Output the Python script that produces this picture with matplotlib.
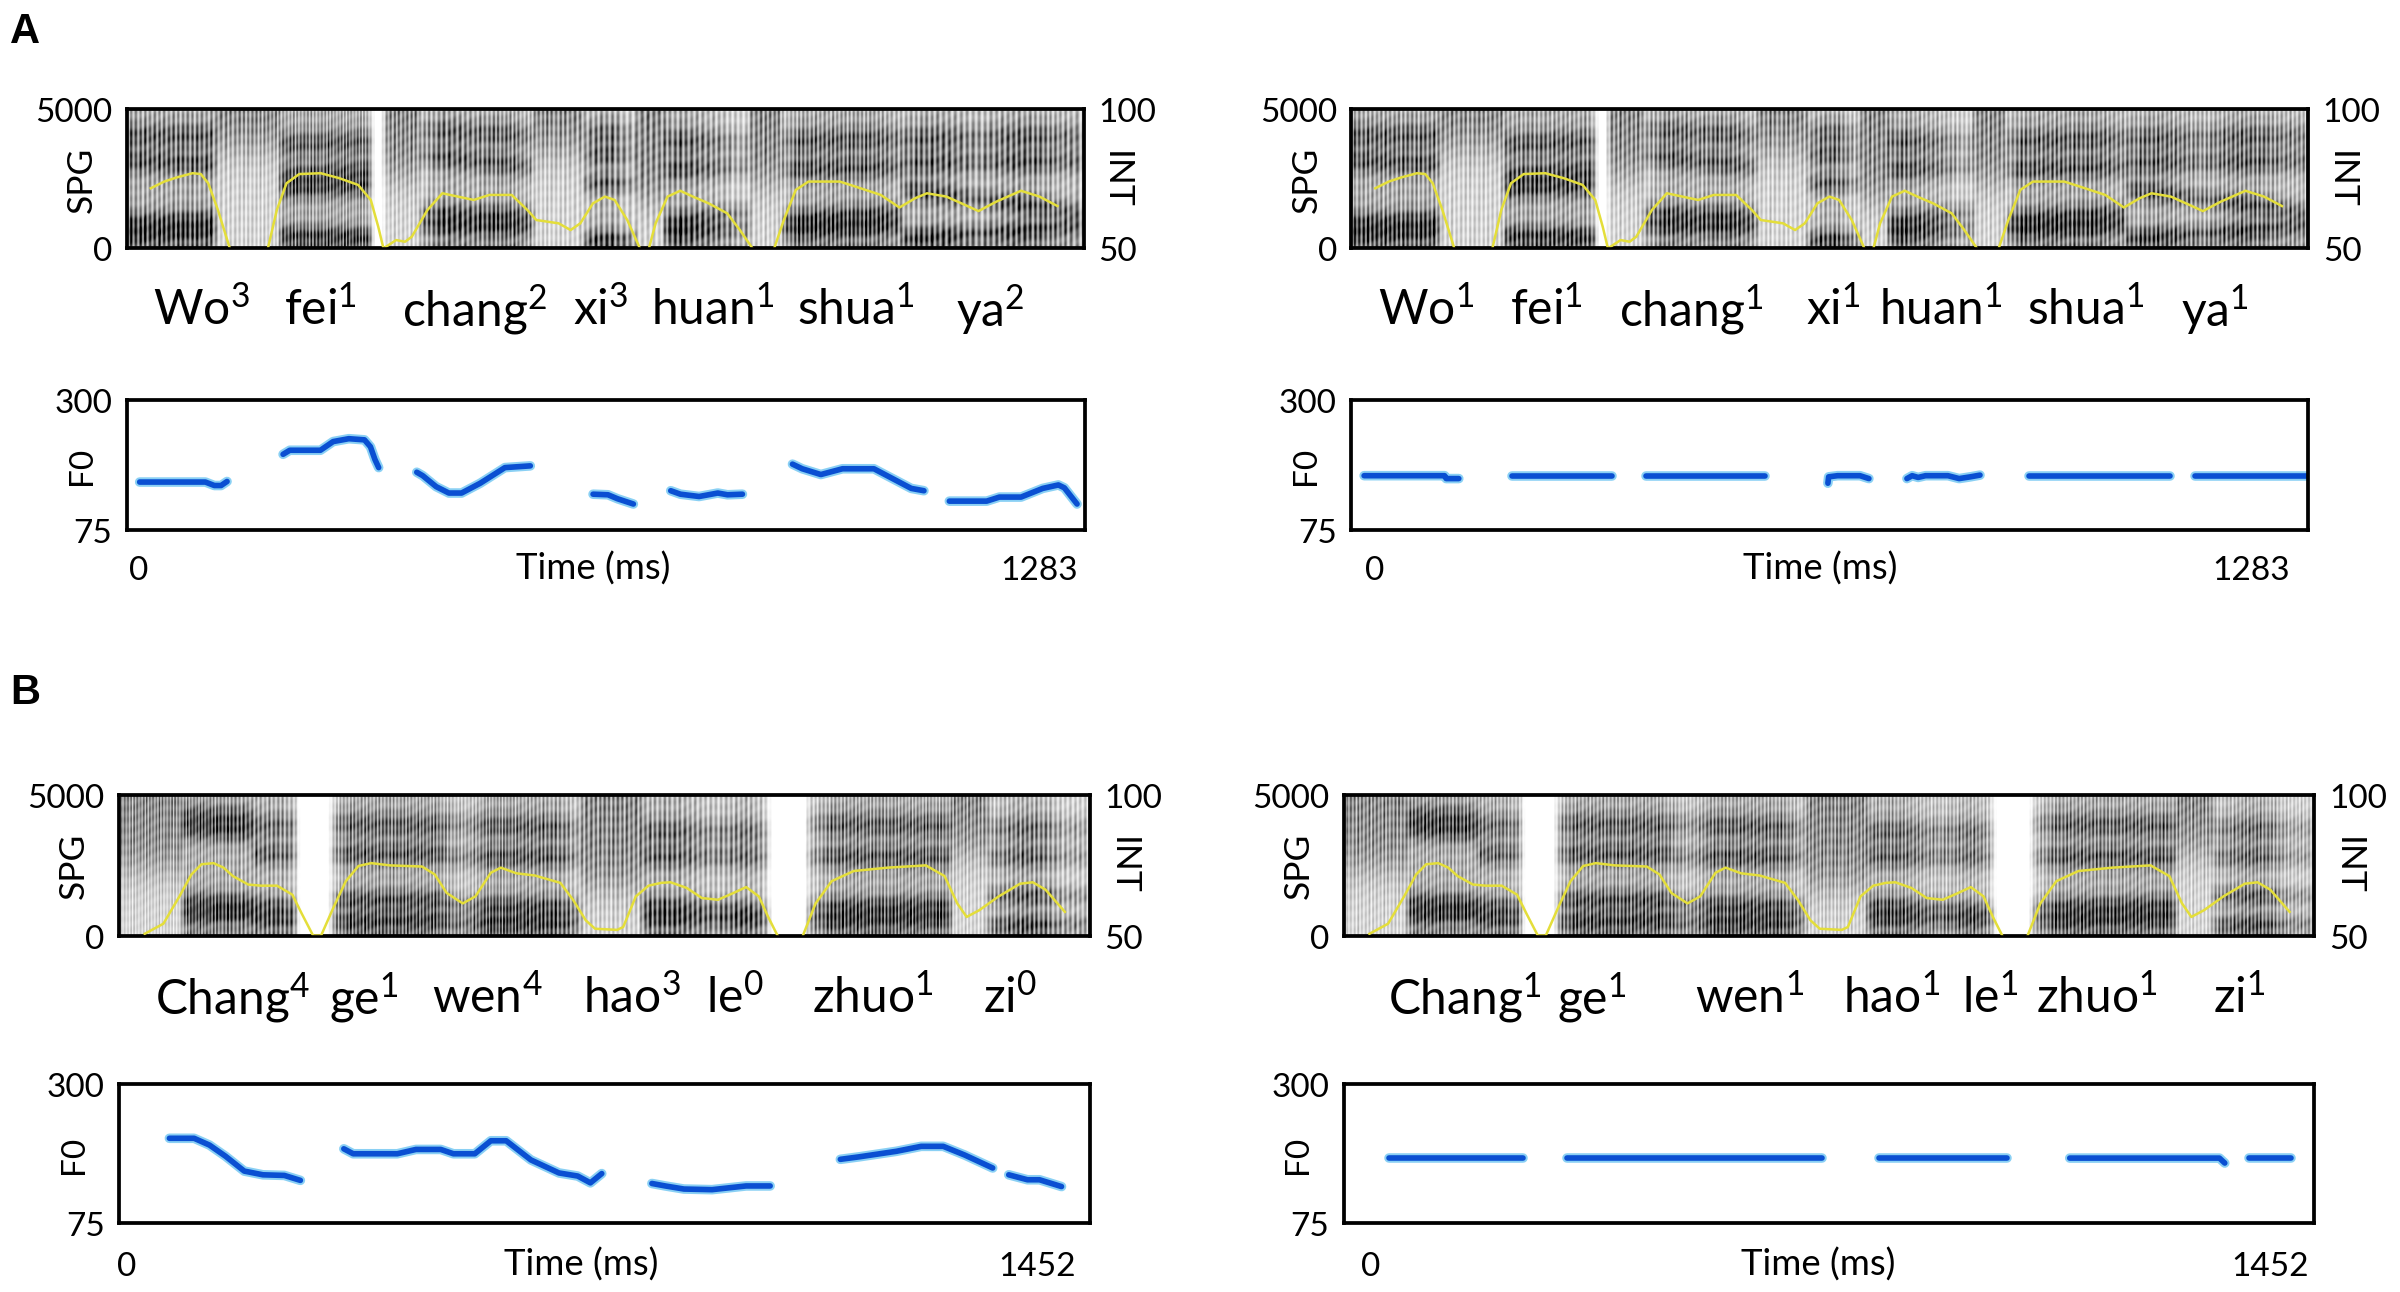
import numpy as np
import matplotlib.pyplot as plt
from matplotlib import transforms

plt.rcParams['font.family'] = ['Lato', 'DejaVu Sans']
plt.rcParams['mathtext.fontset'] = 'custom'
plt.rcParams['mathtext.rm'] = 'Lato'
plt.rcParams['mathtext.it'] = 'Lato:italic'
plt.rcParams['mathtext.bf'] = 'Lato:bold'

nan = np.nan

# ---------------- sentence A: "Wo fei chang xi huan shua ya" ----------------
dur_a = 1283
syl_a = ['Wo', 'fei', 'chang', 'xi', 'huan', 'shua', 'ya']
tone_a_nat = ['3', '1', '2', '3', '1', '1', '2']
tone_a_flat = ['1', '1', '1', '1', '1', '1', '1']
syl_a_ms_nat = [100, 259, 466, 636, 786, 977, 1158]
syl_a_ms_flat = [100, 261, 456, 647, 790, 985, 1158]

# intensity (dB), NaN = unvoiced gap
int_a_ms = [32, 50, 67, 88, 99, 109, 122, 138, 160,
            189, 201, 214, 231, 260, 285, 310, 327, 337, 344, 361, 373, 382, 403, 423,
            444, 465, 486, 516, 537, 549, 579, 595, 608, 625, 641, 654, 671, 688, 694,
            700, 709, 725, 742, 759, 780, 805, 822, 839, 853,
            868, 881, 897, 914, 956, 977, 1011, 1036, 1057, 1073, 1099, 1124, 1142,
            1166, 1199, 1224, 1248]
int_a_db = [71.6, 74.0, 75.5, 77.0, 76.7, 73.4, 63.8, 50, nan,
            50, 63.8, 73.4, 76.7, 77.0, 75.2, 72.8, 67.4, 57.8, 50, 53.0, 52.4, 54.2, 63.8, 69.8,
            68.6, 67.4, 69.2, 69.2, 63.8, 60.2, 59.0, 56.6, 59.0, 66.2, 68.6, 67.4, 60.2, 50, nan,
            50, 59.0, 68.6, 70.7, 68.6, 66.2, 62.6, 56.6, 50, nan,
            50, 60.2, 71.0, 74.0, 74.0, 72.2, 69.2, 64.7, 68.0, 69.8, 68.6, 65.6, 63.4,
            66.8, 70.7, 68.6, 65.2]

# F0 contours (ms, Hz), natural tones
f0_a_nat_ms = [[17, 105, 117, 126, 134],
               [209, 218, 259, 276, 297, 318, 326, 332, 337],
               [388, 396, 414, 431, 448, 473, 506, 540],
               [624, 644, 657, 678],
               [728, 741, 766, 791, 804, 824],
               [891, 904, 929, 958, 1000, 1025, 1050, 1067],
               [1101, 1151, 1168, 1197, 1226, 1247, 1255, 1272]]
f0_a_nat_hz = [[158, 158, 152, 152, 159],
               [206, 213, 213, 228, 233, 231, 219, 197, 183],
               [175, 169, 150, 139, 139, 156, 183, 186],
               [137, 136, 129, 120],
               [143, 137, 133, 139, 136, 137],
               [189, 181, 171, 181, 181, 164, 147, 143],
               [125, 125, 132, 132, 147, 153, 148, 120]]
# F0 contours, flattened (monotone)
f0_a_flat_ms = [[17, 125, 127, 144],
                [216, 350],
                [395, 555],
                [639, 640, 652, 682, 694],
                [745, 752, 760, 770, 800, 815, 830, 843],
                [909, 1098],
                [1131, 1283]]
f0_a_flat_hz = [[169, 169, 164, 164],
                [169, 169],
                [169, 169],
                [156, 167, 169, 169, 164],
                [164, 169, 166, 169, 169, 164, 167, 170],
                [169, 169],
                [169, 169]]

# spectrogram segments: start, end, kind (v voiced / f fricative / s silence), formants at start, at end
seg_a = [(0, 118, 'v', [450, 900, 3100, 4000], [550, 1000, 3000, 4000]),
         (118, 205, 'f', [3600], [3600]),
         (205, 328, 'v', [450, 2100, 2600, 3700], [400, 2200, 2800, 3800]),
         (328, 345, 's', [], []),
         (345, 392, 'f', [2600], [2600]),
         (392, 545, 'v', [750, 1250, 3300, 4200], [700, 1150, 2900, 4000]),
         (545, 612, 'f', [3500], [3500]),
         (612, 683, 'v', [300, 2300, 3300, 4100], [300, 2300, 3300, 4100]),
         (683, 722, 'f', [1800], [1800]),
         (722, 835, 'v', [500, 900, 2800, 3800], [650, 1300, 2900, 3800]),
         (835, 878, 'f', [2400], [2400]),
         (878, 1040, 'v', [600, 1000, 2800, 3800], [750, 1250, 2900, 3900]),
         (1040, 1283, 'v', [350, 2100, 3000, 3900], [750, 1250, 3100, 4000])]

# ---------------- sentence B: "Chang ge wen hao le zhuo zi" ----------------
dur_b = 1452
syl_b = ['Chang', 'ge', 'wen', 'hao', 'le', 'zhuo', 'zi']
tone_b_nat = ['4', '1', '4', '3', '0', '1', '0']
tone_b_flat = ['1', '1', '1', '1', '1', '1', '1']
syl_b_ms_nat = [169, 366, 550, 767, 921, 1127, 1333]
syl_b_ms_flat = [181, 371, 607, 820, 966, 1127, 1340]

int_b_ms = [38, 66, 90, 108, 123, 141, 156, 170, 193, 212, 236, 259, 273, 290,
            302, 321, 339, 358, 377, 405, 453, 472, 490, 514, 533, 556, 571, 594, 622,
            660, 679, 698, 712, 745, 754, 773, 792, 811, 825, 849, 872, 896, 919, 938,
            957, 971, 985, 1004,
            1023, 1042, 1066, 1099, 1150, 1207, 1235, 1254, 1268, 1287, 1316, 1348,
            1367, 1386, 1415]
int_b_db = [50.6, 54.2, 63.9, 71.7, 75.3, 75.7, 74.1, 71.1, 68.1, 67.7, 67.7, 64.5, 57.8, 50,
            50, 60.2, 69.3, 74.7, 75.7, 74.9, 74.5, 71.7, 65.1, 61.4, 63.9, 72.3, 74.1, 72.1, 71.3,
            68.7, 62.7, 55.4, 52.4, 52.0, 53.0, 63.9, 67.7, 68.7, 68.9, 66.9, 63.3, 62.7, 65.1, 67.2,
            63.9, 56.6, 50, nan,
            50, 61.4, 69.3, 72.9, 74.1, 74.9, 71.1, 61.4, 56.6, 59.0, 63.9, 68.4,
            68.9, 66.3, 58.4]

f0_b_nat_ms = [[75, 112, 135, 159, 187, 215, 247, 271],
               [336, 350, 416, 444, 481, 500, 532, 556, 579, 616, 658, 686, 705, 722],
               [797, 817, 845, 887, 938, 974],
               [1079, 1107, 1163, 1200, 1233, 1265, 1307],
               [1331, 1359, 1377, 1410]]
f0_b_nat_hz = [[212, 212, 201, 183, 159, 153, 152, 144],
               [195, 187, 187, 194, 194, 187, 187, 208, 208, 177, 156, 151, 140, 155],
               [139, 135, 130, 129, 135, 135],
               [178, 182, 191, 199, 199, 185, 164],
               [153, 145, 145, 134]]
f0_b_flat_ms = [[68, 268],
                [333, 715],
                [800, 992],
                [1086, 1310, 1318],
                [1355, 1417]]
f0_b_flat_hz = [[180, 180],
                [180, 180],
                [180, 180],
                [180, 180, 172],
                [180, 180]]

seg_b = [(0, 95, 'f', [2400], [2400]),
         (95, 200, 'v', [700, 1200, 3800, 4300], [750, 1150, 3700, 4200]),
         (200, 265, 'v', [600, 1100, 2900, 3900], [500, 1000, 2900, 3900]),
         (265, 318, 's', [], []),
         (318, 490, 'v', [500, 1250, 2900, 3950], [550, 1250, 2900, 3900]),
         (490, 690, 'v', [450, 1100, 2800, 3950], [450, 1000, 2800, 3800]),
         (690, 782, 'f', [1800], [1800]),
         (782, 971, 'v', [600, 1100, 2800, 3700], [500, 900, 2800, 3700]),
         (971, 1030, 's', [], []),
         (1030, 1245, 'v', [500, 1000, 2800, 3950], [600, 1100, 2800, 3900]),
         (1245, 1300, 'f', [3000], [3000]),
         (1300, 1452, 'v', [400, 1400, 2800, 3800], [450, 1400, 2800, 3800])]


def build_spectrogram(dur, segs, int_ms, int_db, f0_ms, f0_hz):
    t = np.linspace(0, dur, 900)
    f = np.linspace(0, 5000, 160)
    T, F = np.meshgrid(t, f)
    ims = np.asarray(int_ms, float)
    idb = np.asarray(int_db, float)
    ok = ~np.isnan(idb)
    db = np.interp(t, ims[ok], idb[ok])
    amp = np.clip((db - 44) / 26, 0.6, 1.0)
    pitch = np.interp(t, np.concatenate(f0_ms), np.concatenate(f0_hz))
    env = np.full(T.shape, 0.02)
    for start, end, kind, b0, b1 in segs:
        cols = (t >= start) & (t < end)
        if kind == 's':
            continue
        u = (t[cols] - start) / (end - start)
        Fc = F[:, cols]
        if kind == 'v':
            e = 0.52 + 0.3 * np.exp(-Fc / 350)
            for k, (a, b) in enumerate(zip(b0, b1)):
                fk = a + (b - a) * u
                e = e + (0.5 - 0.04 * k) * np.exp(-((Fc - fk) / (330 + 40 * k)) ** 2)
            env[:, cols] = amp[cols] * e
        else:
            env[:, cols] = 0.3 + 0.4 / (1 + np.exp(-(Fc - b0[0]) / 400))
    # soften segment edges along time
    k = 7
    kern = np.ones(k) / k
    env = np.apply_along_axis(lambda r: np.convolve(r, kern, mode='same'), 1, env)
    phase = np.cumsum(pitch) * (t[1] - t[0]) / 1000.0
    stri = 0.64 + 0.36 * np.cos(2 * np.pi * phase)
    mottle = (0.86 + 0.14 * np.sin(2 * np.pi * (F / 900.0 + T / 41.0))
              * np.sin(2 * np.pi * (F / 700.0 - T / 23.0 + 0.3 * np.sin(T / 13.0))))
    img = env * stri[None, :] * mottle
    return img


def spectrogram_panel(rect, dur, segs, int_ms, int_db, f0_ms, f0_hz, syl, tones, syl_ms):
    ax = fig.add_axes(rect)
    img = build_spectrogram(dur, segs, int_ms, int_db, f0_ms, f0_hz)
    ax.imshow(img, extent=[0, dur, 0, 5000], origin='lower', aspect='auto',
              cmap='gray_r', vmin=0.04, vmax=0.85, interpolation='bilinear')
    ax.set_xlim(0, dur)
    ax.set_ylim(0, 5000)
    ax.set_xticks([])
    ax.set_yticks([0, 5000])
    ax.set_yticklabels(['0', '5000'])
    ax.tick_params(axis='y', length=0, labelsize=16, pad=7)
    for s in ax.spines.values():
        s.set_linewidth(1.8)
    ax.text(-0.047, 0.5, 'SPG', transform=ax.transAxes, rotation=90,
            ha='center', va='center', fontsize=17)
    ax2 = ax.twinx()
    ax2.plot(int_ms, int_db, color='#e4de3a', lw=1.2)
    ax2.set_ylim(50, 100)
    ax2.set_yticks([50, 100])
    ax2.set_yticklabels(['50', '100'])
    ax2.tick_params(axis='y', length=0, labelsize=16, pad=7)
    ax2.text(1.034, 0.5, 'INT', transform=ax.transAxes, rotation=270,
             ha='center', va='center', fontsize=17)
    trans = transforms.blended_transform_factory(ax.transData, ax.transAxes)
    for name, tone, x in zip(syl, tones, syl_ms):
        ax.text(x, -0.43, name + '$^{' + tone + '}$', transform=trans,
                ha='center', va='center', fontsize=23)
    return ax


def f0_panel(rect, dur, f0_ms, f0_hz, xl):
    ax = fig.add_axes(rect)
    for tt, hz in zip(f0_ms, f0_hz):
        ax.plot(tt, hz, color='#8ad0f4', lw=4.6, solid_capstyle='round')
        ax.plot(tt, hz, color='#0a4fd2', lw=2.7, solid_capstyle='round')
    ax.set_xlim(0, dur)
    ax.set_ylim(75, 300)
    ax.set_xticks([])
    ax.set_yticks([75, 300])
    ax.set_yticklabels(['75', '300'])
    ax.tick_params(axis='y', length=0, labelsize=16, pad=7)
    for s in ax.spines.values():
        s.set_linewidth(1.8)
    ax.text(-0.047, 0.5, 'F0', transform=ax.transAxes, rotation=90,
            ha='center', va='center', fontsize=16)
    ax.text(xl[0], -0.31, '0', transform=ax.transAxes, ha='center', va='center', fontsize=16)
    ax.text(xl[1], -0.29, 'Time (ms)', transform=ax.transAxes, ha='center', va='center', fontsize=17.5)
    ax.text(xl[2], -0.31, str(dur), transform=ax.transAxes, ha='center', va='center', fontsize=16)
    return ax


fig = plt.figure(figsize=(16, 8.62), dpi=150)

# row A
spectrogram_panel([0.0529, 0.8071, 0.3986, 0.1077], dur_a, seg_a, int_a_ms, int_a_db,
                  f0_a_nat_ms, f0_a_nat_hz, syl_a, tone_a_nat, syl_a_ms_nat)
spectrogram_panel([0.5631, 0.8071, 0.3986, 0.1077], dur_a, seg_a, int_a_ms, int_a_db,
                  f0_a_flat_ms, f0_a_flat_hz, syl_a, tone_a_flat, syl_a_ms_flat)
f0_panel([0.0529, 0.5893, 0.3993, 0.1006], dur_a, f0_a_nat_ms, f0_a_nat_hz, [0.012, 0.487, 0.952])
f0_panel([0.5631, 0.5893, 0.3986, 0.1006], dur_a, f0_a_flat_ms, f0_a_flat_hz, [0.024, 0.49, 0.94])

# row B
spectrogram_panel([0.0497, 0.2757, 0.4043, 0.1089], dur_b, seg_b, int_b_ms, int_b_db,
                  f0_b_nat_ms, f0_b_nat_hz, syl_b, tone_b_nat, syl_b_ms_nat)
spectrogram_panel([0.56, 0.2757, 0.4043, 0.1089], dur_b, seg_b, int_b_ms, int_b_db,
                  f0_b_flat_ms, f0_b_flat_hz, syl_b, tone_b_flat, syl_b_ms_flat)
f0_panel([0.0497, 0.0533, 0.4043, 0.1077], dur_b, f0_b_nat_ms, f0_b_nat_hz, [0.008, 0.476, 0.946])
f0_panel([0.56, 0.0533, 0.4043, 0.1077], dur_b, f0_b_flat_ms, f0_b_flat_hz, [0.027, 0.489, 0.954])

fig.text(0.0105, 0.975, 'A', fontsize=20, fontweight='bold', family='Liberation Sans',
         ha='center', va='center')
fig.text(0.0105, 0.464, 'B', fontsize=20, fontweight='bold', family='Liberation Sans',
         ha='center', va='center')

fig.savefig('out.png', dpi=150, facecolor='white')
